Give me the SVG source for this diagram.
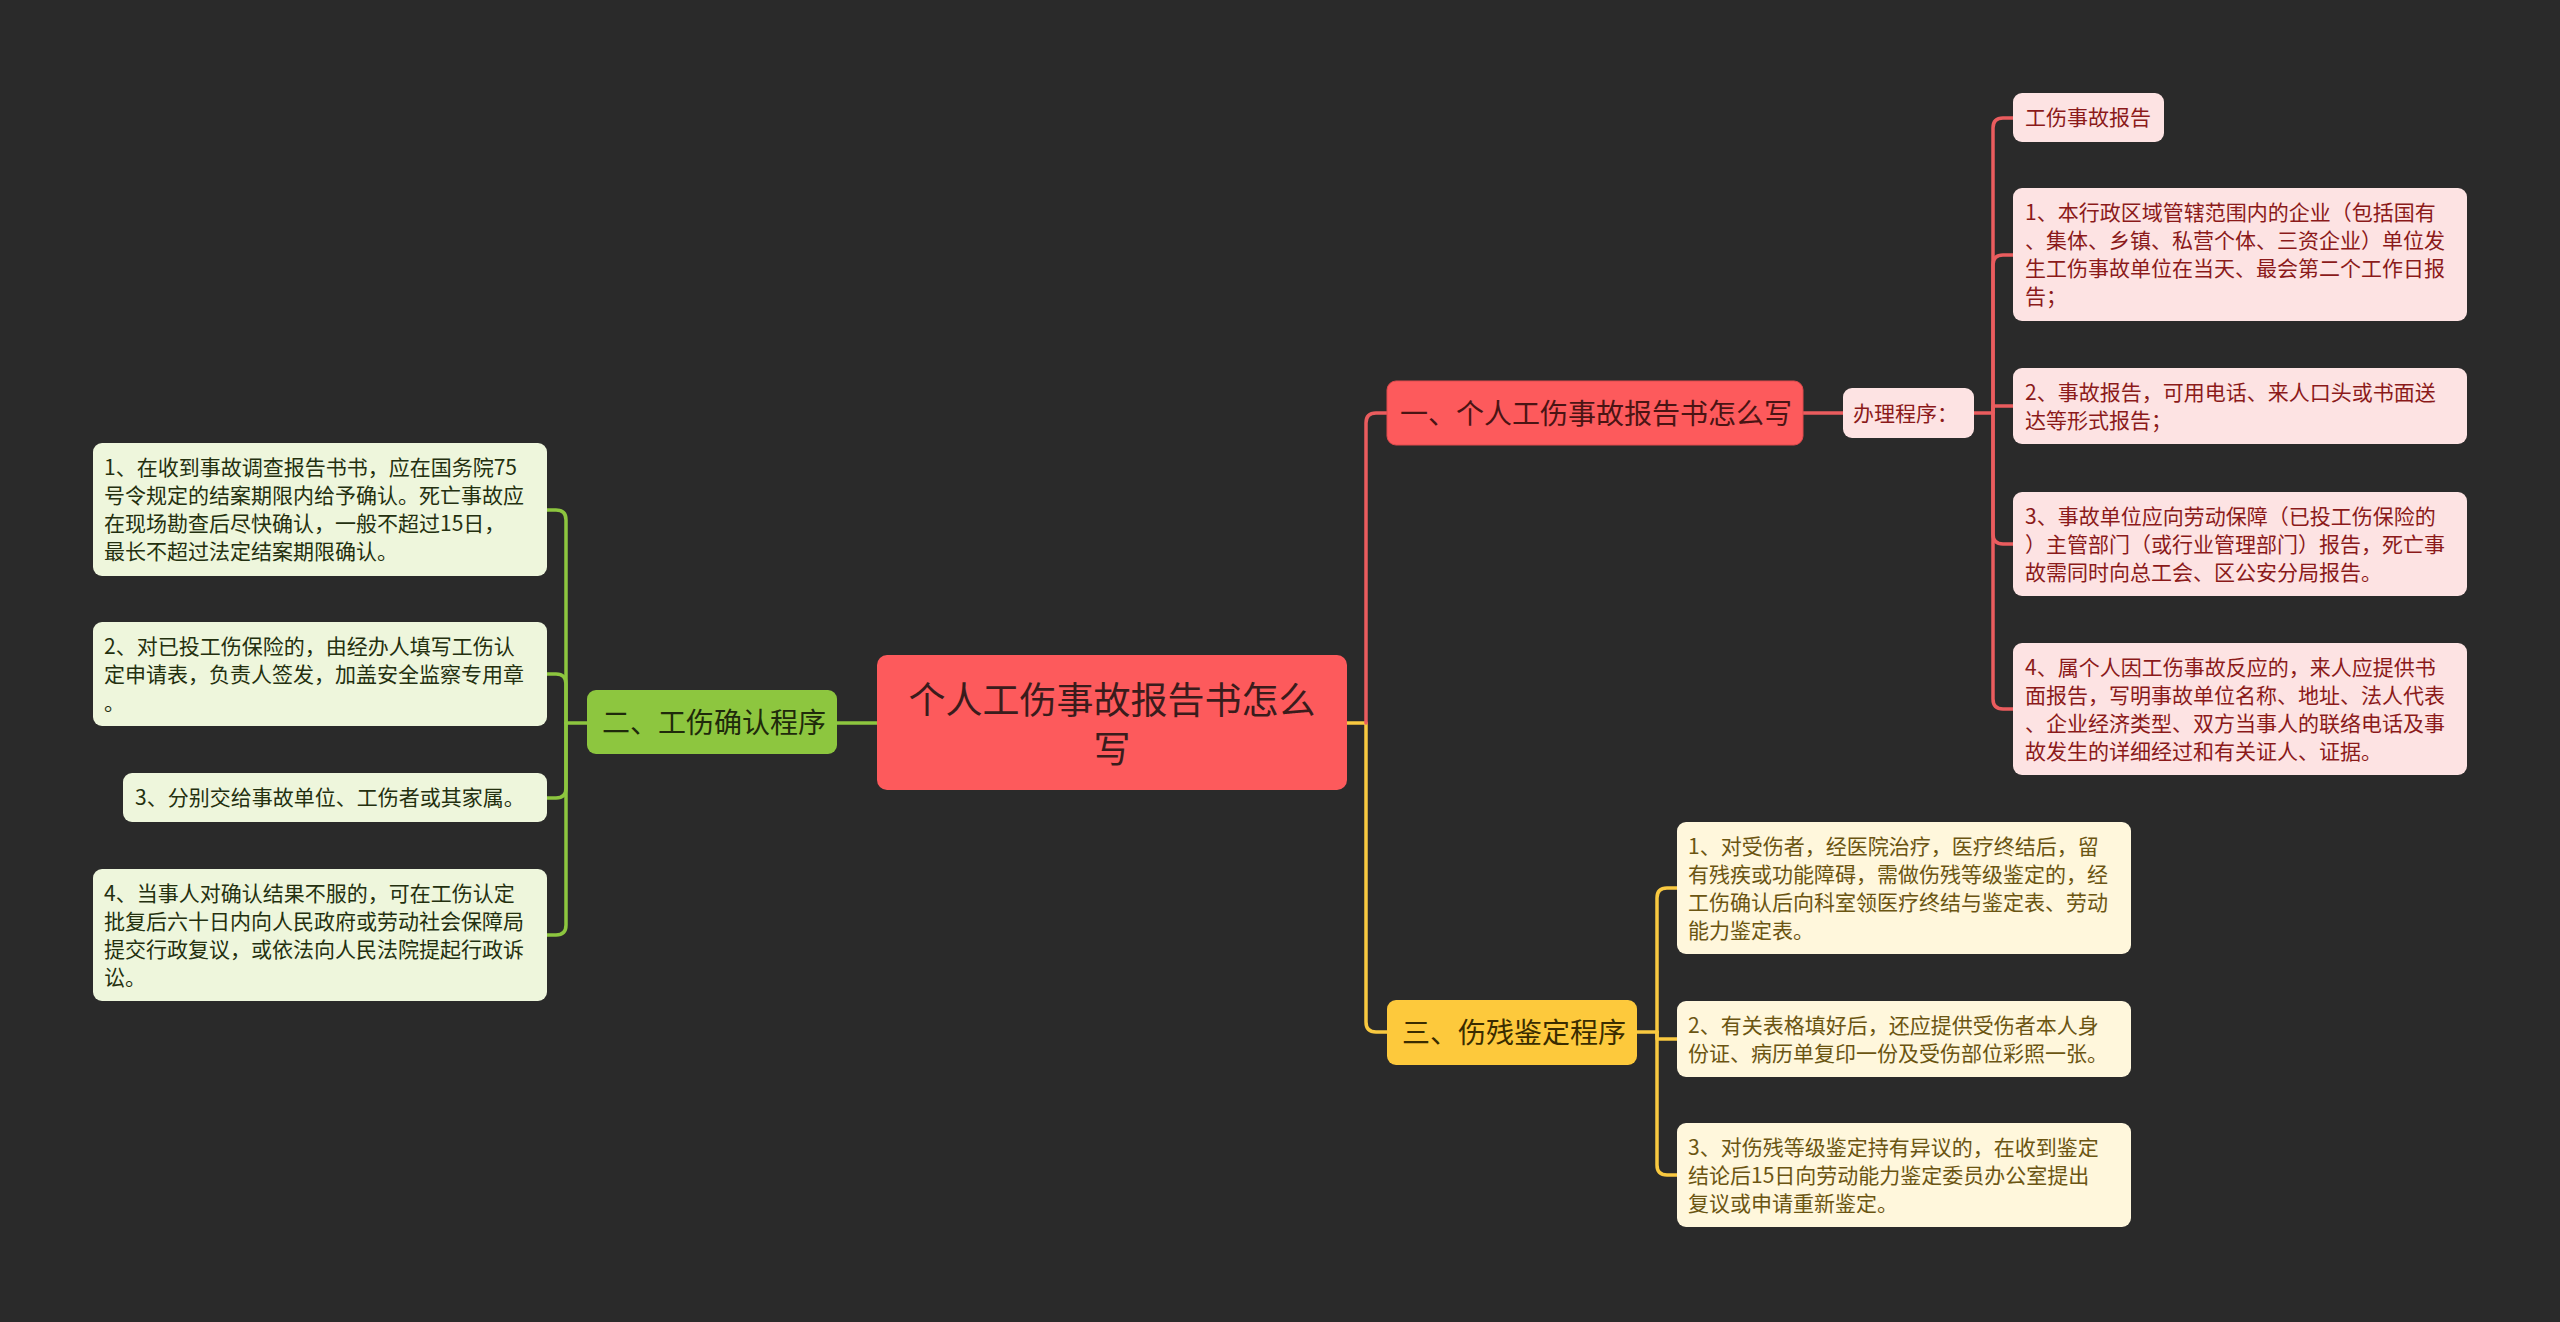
<svg xmlns="http://www.w3.org/2000/svg" width="2560" height="1322" viewBox="0 0 2560 1322">
<style>
text{font-family:"Noto Sans CJK SC","Microsoft YaHei",sans-serif;}
.c{fill:none;stroke-width:3.5;stroke-linecap:round;stroke-linejoin:round;}
.cr{stroke:#ea5c5e;}
.cg{stroke:#8dc63f;}
.cy{stroke:#f9c940;}
.s{font-size:21px;}
.m{font-size:28px;}
.rb{fill:#fde3e3;}
.rt{fill:#8b1a1a;}
.yb{fill:#fff7dc;}
.yt{fill:#6b5512;}
.gb{fill:#eef6dc;}
.gt{fill:#24300f;}
</style>
<rect x="0" y="0" width="2560" height="1322" fill="#2a2a2a"/>
<g id="connectors">
<path class="c cg" d="M877,723 H837"/>
<path class="c cg" d="M587,723 H566"/>
<path class="c cg" d="M566,723 V520 Q566,510 556,510 H547"/>
<path class="c cg" d="M566,723 V684 Q566,674 556,674 H547"/>
<path class="c cg" d="M566,723 V788 Q566,798 556,798 H547"/>
<path class="c cg" d="M566,723 V925 Q566,935 556,935 H547"/>
<path class="c cy" d="M1347,723 H1366 V1022 Q1366,1032 1376,1032 H1387"/>
<path class="c cr" d="M1366,723 V423 Q1366,413 1376,413 H1387"/>
<path class="c cr" d="M1803,413 H1843"/>
<path class="c cr" d="M1974,413 H1993"/>
<path class="c cr" d="M1993,413 V128 Q1993,118 2003,118 H2013"/>
<path class="c cr" d="M1993,413 V265 Q1993,255 2003,255 H2013"/>
<path class="c cr" d="M1993,413 V406 H2013"/>
<path class="c cr" d="M1993,413 V534 Q1993,544 2003,544 H2013"/>
<path class="c cr" d="M1993,413 V699 Q1993,709 2003,709 H2013"/>
<path class="c cy" d="M1637,1032 H1657"/>
<path class="c cy" d="M1657,1032 V898 Q1657,888 1667,888 H1677"/>
<path class="c cy" d="M1657,1032 V1039 H1677"/>
<path class="c cy" d="M1657,1032 V1165 Q1657,1175 1667,1175 H1677"/>
</g>
<g id="root">
<rect x="877" y="655" width="470" height="135" rx="10" fill="#fd5a5c"/>
<text x="1112" y="714" font-size="37" text-anchor="middle" fill="#3a1c1c">个人工伤事故报告书怎么</text>
<text x="1112" y="763" font-size="37" text-anchor="middle" fill="#3a1c1c">写</text>
</g>
<g id="n1">
<rect x="1387" y="381" width="416" height="64" rx="9" fill="#fd5a5c" stroke="#e04a4c" stroke-width="1"/>
<text class="m" x="1400" y="424" fill="#4a1414">一、个人工伤事故报告书怎么写</text>
</g>
<g id="n1a">
<rect x="1843" y="388" width="131" height="50" rx="9" class="rb"/>
<text class="s rt" x="1853" y="421">办理程序：</text>
</g>
<g id="r0">
<rect x="2013" y="93" width="151" height="49" rx="9" class="rb"/>
<text class="s rt" x="2025" y="125">工伤事故报告</text>
</g>
<g id="r1">
<rect x="2013" y="188" width="454" height="133" rx="9" class="rb"/>
<text class="s rt" x="2025" y="220"><tspan x="2025">1、本行政区域管辖范围内的企业（包括国有</tspan><tspan x="2025" dy="28">、集体、乡镇、私营个体、三资企业）单位发</tspan><tspan x="2025" dy="28">生工伤事故单位在当天、最会第二个工作日报</tspan><tspan x="2025" dy="28">告；</tspan></text>
</g>
<g id="r2">
<rect x="2013" y="368" width="454" height="76" rx="9" class="rb"/>
<text class="s rt" x="2025" y="400"><tspan x="2025">2、事故报告，可用电话、来人口头或书面送</tspan><tspan x="2025" dy="28">达等形式报告；</tspan></text>
</g>
<g id="r3">
<rect x="2013" y="492" width="454" height="104" rx="9" class="rb"/>
<text class="s rt" x="2025" y="524"><tspan x="2025">3、事故单位应向劳动保障（已投工伤保险的</tspan><tspan x="2025" dy="28">）主管部门（或行业管理部门）报告，死亡事</tspan><tspan x="2025" dy="28">故需同时向总工会、区公安分局报告。</tspan></text>
</g>
<g id="r4">
<rect x="2013" y="643" width="454" height="132" rx="9" class="rb"/>
<text class="s rt" x="2025" y="675"><tspan x="2025">4、属个人因工伤事故反应的，来人应提供书</tspan><tspan x="2025" dy="28">面报告，写明事故单位名称、地址、法人代表</tspan><tspan x="2025" dy="28">、企业经济类型、双方当事人的联络电话及事</tspan><tspan x="2025" dy="28">故发生的详细经过和有关证人、证据。</tspan></text>
</g>
<g id="n2">
<rect x="587" y="690" width="250" height="64" rx="9" fill="#8dc63f"/>
<text class="m" x="602" y="733" fill="#1f2a0b">二、工伤确认程序</text>
</g>
<g id="g1">
<rect x="93" y="443" width="454" height="133" rx="9" class="gb"/>
<text class="s gt" x="104" y="475"><tspan x="104">1、在收到事故调查报告书书，应在国务院75</tspan><tspan x="104" dy="28">号令规定的结案期限内给予确认。死亡事故应</tspan><tspan x="104" dy="28">在现场勘查后尽快确认，一般不超过15日，</tspan><tspan x="104" dy="28">最长不超过法定结案期限确认。</tspan></text>
</g>
<g id="g2">
<rect x="93" y="622" width="454" height="104" rx="9" class="gb"/>
<text class="s gt" x="104" y="654"><tspan x="104">2、对已投工伤保险的，由经办人填写工伤认</tspan><tspan x="104" dy="28">定申请表，负责人签发，加盖安全监察专用章</tspan><tspan x="104" dy="28">。</tspan></text>
</g>
<g id="g3">
<rect x="123" y="773" width="424" height="49" rx="9" class="gb"/>
<text class="s gt" x="135" y="805">3、分别交给事故单位、工伤者或其家属。</text>
</g>
<g id="g4">
<rect x="93" y="869" width="454" height="132" rx="9" class="gb"/>
<text class="s gt" x="104" y="901"><tspan x="104">4、当事人对确认结果不服的，可在工伤认定</tspan><tspan x="104" dy="28">批复后六十日内向人民政府或劳动社会保障局</tspan><tspan x="104" dy="28">提交行政复议，或依法向人民法院提起行政诉</tspan><tspan x="104" dy="28">讼。</tspan></text>
</g>
<g id="n3">
<rect x="1387" y="1000" width="250" height="65" rx="9" fill="#fdc93c"/>
<text class="m" x="1402" y="1043" fill="#3a2c00">三、伤残鉴定程序</text>
</g>
<g id="y1">
<rect x="1677" y="822" width="454" height="132" rx="9" class="yb"/>
<text class="s yt" x="1688" y="854"><tspan x="1688">1、对受伤者，经医院治疗，医疗终结后，留</tspan><tspan x="1688" dy="28">有残疾或功能障碍，需做伤残等级鉴定的，经</tspan><tspan x="1688" dy="28">工伤确认后向科室领医疗终结与鉴定表、劳动</tspan><tspan x="1688" dy="28">能力鉴定表。</tspan></text>
</g>
<g id="y2">
<rect x="1677" y="1001" width="454" height="76" rx="9" class="yb"/>
<text class="s yt" x="1688" y="1033"><tspan x="1688">2、有关表格填好后，还应提供受伤者本人身</tspan><tspan x="1688" dy="28">份证、病历单复印一份及受伤部位彩照一张。</tspan></text>
</g>
<g id="y3">
<rect x="1677" y="1123" width="454" height="104" rx="9" class="yb"/>
<text class="s yt" x="1688" y="1155"><tspan x="1688">3、对伤残等级鉴定持有异议的，在收到鉴定</tspan><tspan x="1688" dy="28">结论后15日向劳动能力鉴定委员办公室提出</tspan><tspan x="1688" dy="28">复议或申请重新鉴定。</tspan></text>
</g>
</svg>
